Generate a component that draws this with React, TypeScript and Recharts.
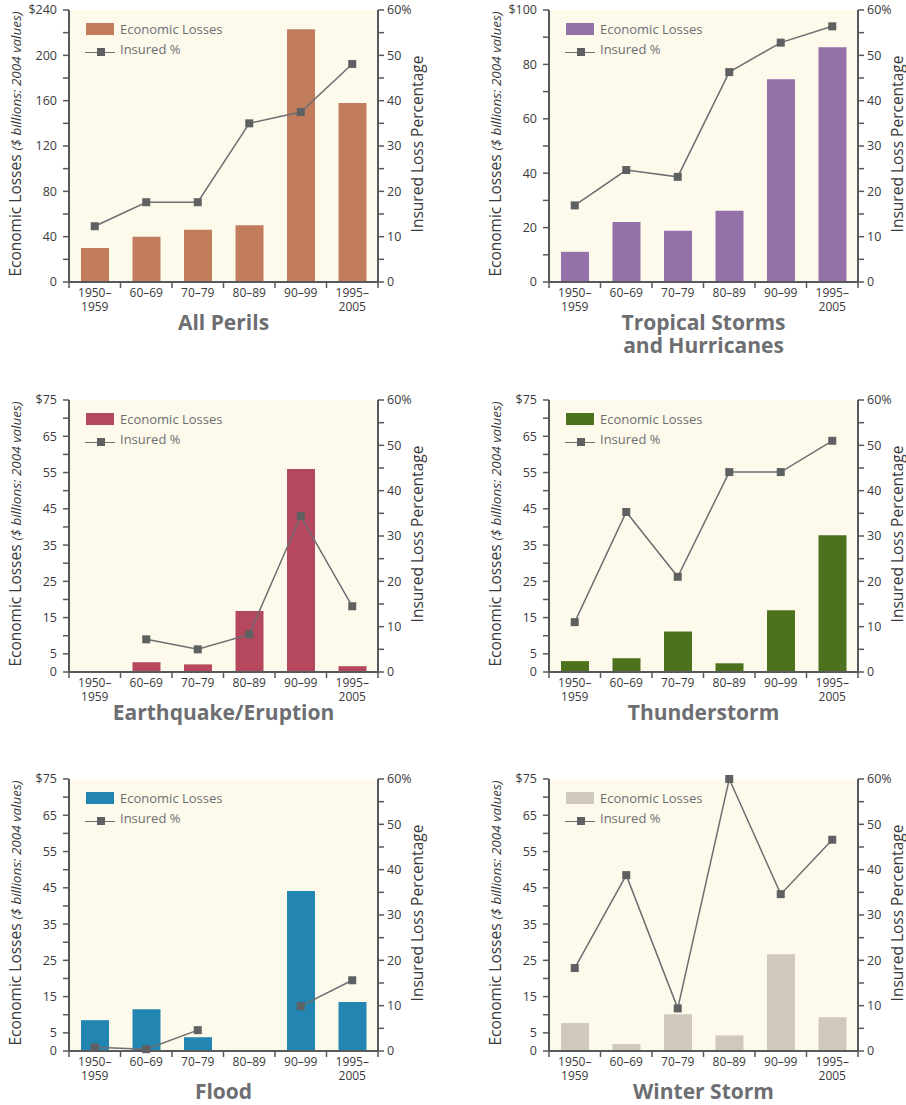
import React from 'react'
import { ComposedChart, Bar, Line, XAxis, YAxis, CartesianGrid } from 'recharts'

// decades shown on every panel
const periods = ['1950–1959', '60–69', '70–79', '80–89', '90–99', '1995–2005']
const periodLines: string[][] = [['1950–', '1959'], ['60–69'], ['70–79'], ['80–89'], ['90–99'], ['1995–', '2005']]

// economic losses ($ billions) and insured share (%)
const allPerilsLosses = [30, 40, 46, 50, 223, 158]
const allPerilsInsured = [12.3, 17.6, 17.6, 35, 37.5, 48.1]
const tropicalLosses = [11.1, 22.1, 18.8, 26.2, 74.5, 86.3]
const tropicalInsured = [16.9, 24.7, 23.2, 46.3, 52.8, 56.4]
const quakeLosses = [0, 2.7, 2.1, 16.8, 56, 1.6]
const quakeInsured = [null, 7.2, 5.0, 8.3, 34.4, 14.5]
const thunderLosses = [3.0, 3.8, 11.2, 2.4, 17.0, 37.7]
const thunderInsured = [11.0, 35.3, 21.0, 44.1, 44.1, 51.0]
const floodLosses = [8.5, 11.5, 3.8, 0, 44.1, 13.5]
const floodInsured = [0.8, 0.4, 4.6, null, 9.9, 15.6]
const winterLosses = [7.7, 1.9, 10.1, 4.3, 26.7, 9.3]
const winterInsured = [18.3, 38.8, 9.4, 60, 34.6, 46.6]

// axis ticks
const ticks240 = [0, 20, 40, 60, 80, 100, 120, 140, 160, 180, 200, 220, 240]
const labels240 = [0, 40, 80, 120, 160, 200, 240]
const ticks100 = [0, 10, 20, 30, 40, 50, 60, 70, 80, 90, 100]
const labels100 = [0, 20, 40, 60, 80, 100]
const ticks75 = [0, 5, 10, 15, 20, 25, 30, 35, 40, 45, 50, 55, 60, 65, 70, 75]
const labels75 = [0, 5, 15, 25, 35, 45, 55, 65, 75]
const pctTicks = [0, 5, 10, 15, 20, 25, 30, 35, 40, 45, 50, 55, 60]
const pctLabels = [0, 10, 20, 30, 40, 50, 60]

const FONT = '"Open Sans", "Noto Sans", sans-serif'
const AXIS = '#58595b'
const GRAY = '#6d6e71'
const CHART_W = 453
const CHART_H = 320
const LEFT_W = 69
const RIGHT_W = 75
const PLOT_TOP = 10
const PLOT_BOTTOM = 282
const PLOT_W = CHART_W - LEFT_W - RIGHT_W
const BAND = PLOT_W / periods.length

const XTick = (props: any) => {
  const { x, payload } = props
  const idx = periods.indexOf(payload.value)
  const half = BAND / 2
  const lines = periodLines[idx] || []
  return (
    <g>
      <line x1={x - half} x2={x - half} y1={PLOT_BOTTOM} y2={PLOT_BOTTOM + 6} stroke={AXIS} strokeWidth={1.5} />
      {idx === periods.length - 1 && (
        <line x1={x + half} x2={x + half} y1={PLOT_BOTTOM} y2={PLOT_BOTTOM + 6} stroke={AXIS} strokeWidth={1.5} />
      )}
      <text x={x} y={PLOT_BOTTOM + 15} textAnchor="middle" fontSize={12} fill="#3a3a3c" fontFamily={FONT}>
        {lines.map((l, i) => (
          <tspan key={i} x={x} dy={i ? 14 : 0}>{l}</tspan>
        ))}
      </text>
    </g>
  )
}

const SquareDot = (props: any) => {
  const { cx, cy, index } = props
  if (cx == null || cy == null || props.value == null) return <g key={index} />
  return <rect key={index} x={cx - 4} y={cy - 4} width={8} height={8} fill="#5f6062" />
}

interface PanelProps {
  left: number
  top: number
  title: string[]
  color: string
  losses: number[]
  insured: (number | null)[]
  max: number
  ticks: number[]
  labels: number[]
}

const Panel: React.FC<PanelProps> = ({ left, top, title, color, losses, insured, max, ticks, labels }) => {
  const data = periods.map((p, i) => ({ period: p, losses: losses[i], insured: insured[i] }))
  const plotMidY = (PLOT_TOP + PLOT_BOTTOM) / 2
  const plotMidX = LEFT_W + PLOT_W / 2
  return (
    <div style={{ position: 'absolute', left, top, width: CHART_W, height: 380, fontFamily: FONT }}>
      <ComposedChart width={CHART_W} height={CHART_H} data={data} margin={{ top: PLOT_TOP, right: 0, bottom: 0, left: 0 }} barSize={28}>
        <CartesianGrid horizontal={false} vertical={false} fill="#fdfaec" />
        <XAxis dataKey="period" height={CHART_H - PLOT_BOTTOM} interval={0} tickLine={false} axisLine={{ stroke: AXIS, strokeWidth: 2 }} tick={<XTick />} />
        <YAxis
          yAxisId="left"
          width={LEFT_W}
          domain={[0, max]}
          ticks={ticks}
          interval={0}
          tickSize={6}
          tickMargin={6}
          axisLine={{ stroke: AXIS, strokeWidth: 2 }}
          tickLine={{ stroke: AXIS, strokeWidth: 1.5 }}
          tick={{ fontSize: 12.5, fill: '#3a3a3c', fontFamily: FONT }}
          tickFormatter={(v: number) => (labels.includes(v) ? (v === max ? `$${v}` : `${v}`) : '')}
        />
        <YAxis
          yAxisId="right"
          orientation="right"
          width={RIGHT_W}
          domain={[0, 60]}
          ticks={pctTicks}
          interval={0}
          tickSize={6}
          tickMargin={3}
          axisLine={{ stroke: AXIS, strokeWidth: 2 }}
          tickLine={{ stroke: AXIS, strokeWidth: 1.5 }}
          tick={{ fontSize: 12.5, fill: '#3a3a3c', fontFamily: FONT }}
          tickFormatter={(v: number) => (pctLabels.includes(v) ? (v === 60 ? `${v}%` : `${v}`) : '')}
        />
        <Bar yAxisId="left" dataKey="losses" fill={color} isAnimationActive={false} />
        <Line
          yAxisId="right"
          dataKey="insured"
          type="linear"
          stroke={GRAY}
          strokeWidth={1.5}
          dot={<SquareDot />}
          activeDot={false}
          connectNulls={false}
          isAnimationActive={false}
        />
      </ComposedChart>

      {/* legend */}
      <div style={{ position: 'absolute', left: LEFT_W + 17, top: 23, width: 28, height: 12, background: color }} />
      <div style={{ position: 'absolute', left: LEFT_W + 51, top: 20, fontSize: 13, lineHeight: '18px', color: GRAY, whiteSpace: 'nowrap' }}>Economic Losses</div>
      <div style={{ position: 'absolute', left: LEFT_W + 16, top: 51.5, width: 30, height: 1.5, background: GRAY }} />
      <div style={{ position: 'absolute', left: LEFT_W + 27.5, top: 48, width: 8, height: 8, background: '#5f6062' }} />
      <div style={{ position: 'absolute', left: LEFT_W + 51, top: 40, fontSize: 13, lineHeight: '18px', color: GRAY, whiteSpace: 'nowrap' }}>Insured %</div>

      {/* axis titles */}
      <div style={{ position: 'absolute', left: 15, top: plotMidY - 2, transform: 'translate(-50%, -50%) rotate(-90deg)', whiteSpace: 'nowrap', color: '#3a3a3c', fontSize: 15.5 }}>
        Economic Losses <span style={{ fontStyle: 'italic', fontSize: 13.5 }}>($ billions: 2004 values)</span>
      </div>
      <div style={{ position: 'absolute', left: LEFT_W + PLOT_W + 39, top: plotMidY - 2, transform: 'translate(-50%, -50%) rotate(-90deg)', whiteSpace: 'nowrap', color: '#3a3a3c', fontSize: 15.5 }}>
        Insured Loss Percentage
      </div>

      {/* panel title */}
      <div style={{ position: 'absolute', left: plotMidX - 150, width: 300, top: PLOT_BOTTOM + 29, textAlign: 'center', fontSize: 21, lineHeight: '23px', fontWeight: 700, color: GRAY }}>
        {title.map((t, i) => (
          <div key={i}>{t}</div>
        ))}
      </div>
    </div>
  )
}

export default function App() {
  return (
    <div style={{ position: 'absolute', left: 0, top: 0, width: 906, height: 1105, background: '#fff' }}>
      <Panel left={0} top={0} title={['All Perils']} color="#c17d5b" losses={allPerilsLosses} insured={allPerilsInsured} max={240} ticks={ticks240} labels={labels240} />
      <Panel left={480} top={0} title={['Tropical Storms', 'and Hurricanes']} color="#9571a9" losses={tropicalLosses} insured={tropicalInsured} max={100} ticks={ticks100} labels={labels100} />
      <Panel left={0} top={390} title={['Earthquake/Eruption']} color="#b5475f" losses={quakeLosses} insured={quakeInsured} max={75} ticks={ticks75} labels={labels75} />
      <Panel left={480} top={390} title={['Thunderstorm']} color="#4c721d" losses={thunderLosses} insured={thunderInsured} max={75} ticks={ticks75} labels={labels75} />
      <Panel left={0} top={769} title={['Flood']} color="#2385b1" losses={floodLosses} insured={floodInsured} max={75} ticks={ticks75} labels={labels75} />
      <Panel left={480} top={769} title={['Winter Storm']} color="#d0c8bd" losses={winterLosses} insured={winterInsured} max={75} ticks={ticks75} labels={labels75} />
    </div>
  )
}
